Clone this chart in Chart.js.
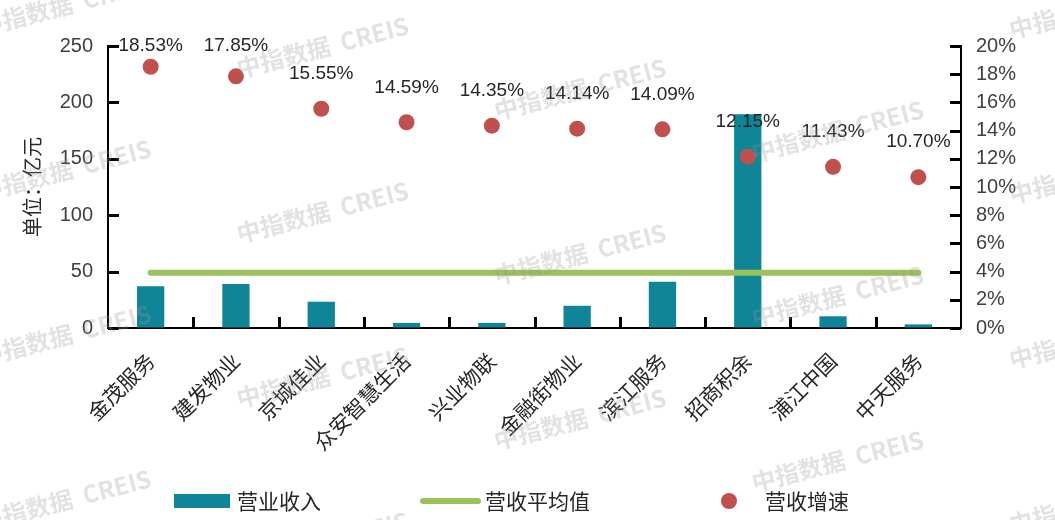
<!DOCTYPE html>
<html lang="zh-CN">
<head>
<meta charset="UTF-8">
<title>物业企业营业收入及增速</title>
<script src="https://cdn.jsdelivr.net/npm/chart.js"></script>
<style>
  html, body { margin: 0; padding: 0; background: #fff; }
  #wrap { width: 1055px; height: 520px; }
</style>
</head>
<body>
<div id="wrap"><canvas id="myChart" width="1055" height="520"></canvas></div>
<script>
    // 数据
    const companies = ['金茂服务', '建发物业', '京城佳业', '众安智慧生活', '兴业物联', '金融街物业', '滨江服务', '招商积余', '浦江中国', '中天服务'];
    const revenue = [37, 39, 23.3, 4.5, 4.5, 19.7, 41, 189.4, 10.4, 3.2];   // 营业收入 (亿元)
    const revenueAvg = [49, 49, 49, 49, 49, 49, 49, 49, 49, 49];              // 营收平均值
    const growthRate = [18.53, 17.85, 15.55, 14.59, 14.35, 14.14, 14.09, 12.15, 11.43, 10.70]; // 营收增速 (%)
    const leftTicks = [0, 50, 100, 150, 200, 250];
    const rightTicks = [0, 2, 4, 6, 8, 10, 12, 14, 16, 18, 20];

    const FONT = "'Liberation Sans', 'Noto Sans CJK SC', sans-serif";
    const CJK = "'Noto Sans CJK SC', sans-serif";
    const TEAL = '#108597';
    const GREEN = '#9bc15a';
    const RED = '#c0504d';

    // 坐标轴内侧刻度线
    const innerTicks = {
        id: 'innerTicks',
        afterDraw(chart) {
            const c = chart.ctx;
            const area = chart.chartArea;
            const sy = chart.scales.y;
            const sy1 = chart.scales.y1;
            const sx = chart.scales.x;
            c.save();
            c.fillStyle = '#000000';
            leftTicks.forEach(function (v) {
                const y = Math.round(sy.getPixelForValue(v));
                c.fillRect(area.left, y - 1, 11, 3);
            });
            rightTicks.forEach(function (v) {
                const y = Math.round(sy1.getPixelForValue(v));
                c.fillRect(area.right - 11, y - 1, 11, 3);
            });
            for (let i = 1; i < companies.length; i++) {
                const x = Math.round((sx.getPixelForValue(i - 1) + sx.getPixelForValue(i)) / 2);
                c.fillRect(x - 1, area.bottom - 11, 3, 11);
            }
            c.restore();
        }
    };

    // 增速数据标签
    const growthLabels = {
        id: 'growthLabels',
        afterDatasetsDraw(chart) {
            const meta = chart.getDatasetMeta(2);
            const c = chart.ctx;
            c.save();
            c.font = '19px ' + FONT;
            c.fillStyle = '#262626';
            c.textAlign = 'center';
            c.textBaseline = 'middle';
            meta.data.forEach(function (pt, i) {
                const y = Math.max(pt.y - 35, chart.chartArea.top);
                c.fillText(growthRate[i].toFixed(2) + '%', pt.x, y);
            });
            c.restore();
        }
    };

    // 底部图例
    const bottomLegend = {
        id: 'bottomLegend',
        afterDraw(chart) {
            const c = chart.ctx;
            const ds = chart.data.datasets;
            const y = 501;
            c.save();
            c.font = '21px ' + CJK;
            c.textBaseline = 'middle';
            c.textAlign = 'left';
            // 营业收入
            c.fillStyle = ds[0].backgroundColor;
            c.fillRect(174, y - 7, 56, 14);
            c.fillStyle = '#262626';
            c.fillText(ds[0].label, 237, y);
            // 营收平均值
            c.strokeStyle = ds[1].borderColor;
            c.lineWidth = 6;
            c.lineCap = 'round';
            c.beginPath();
            c.moveTo(423, y);
            c.lineTo(478, y);
            c.stroke();
            c.fillText(ds[1].label, 485, y);
            // 营收增速
            c.fillStyle = ds[2].pointBackgroundColor;
            c.beginPath();
            c.arc(729, y, 8, 0, Math.PI * 2);
            c.fill();
            c.fillStyle = '#262626';
            c.fillText(ds[2].label, 765, y);
            c.restore();
        }
    };

    // 水印
    const watermark = {
        id: 'watermark',
        afterDraw(chart) {
            const c = chart.ctx;
            c.save();
            c.font = 'bold 24px ' + CJK;
            c.fillStyle = 'rgba(150, 150, 150, 0.28)';
            c.textAlign = 'center';
            c.textBaseline = 'middle';
            for (let i = 0; i < 5; i++) {
                for (let j = -1; j < 4; j++) {
                    const x = 65 + 257.5 * i;
                    const y = 5 + 42 * i + 165 * j;
                    c.save();
                    c.translate(x, y);
                    c.rotate(-14.5 * Math.PI / 180);
                    c.fillText('中指数据  CREIS', 0, 0);
                    c.restore();
                }
            }
            c.restore();
        }
    };

    const ctx = document.getElementById('myChart');
    const mychart = new Chart(ctx, {
        data: {
            labels: companies,
            datasets: [{
                type: 'bar',
                label: '营业收入',
                data: revenue,
                backgroundColor: TEAL,
                barPercentage: 0.32,
                categoryPercentage: 1,
                yAxisID: 'y',
                order: 2
            }, {
                type: 'line',
                label: '营收平均值',
                data: revenueAvg,
                borderColor: GREEN,
                borderWidth: 6,
                borderCapStyle: 'round',
                pointRadius: 0,
                yAxisID: 'y',
                order: 1
            }, {
                type: 'line',
                label: '营收增速',
                data: growthRate,
                showLine: false,
                pointRadius: 8,
                pointBackgroundColor: RED,
                pointBorderWidth: 0,
                borderColor: RED,
                yAxisID: 'y1',
                order: 0
            }]
        },
        options: {
            responsive: false,
            animation: false,
            layout: { padding: { top: 46, bottom: 40, left: 0, right: 0 } },
            plugins: {
                legend: { display: false },
                tooltip: { enabled: false }
            },
            scales: {
                x: {
                    grid: { display: true, drawOnChartArea: false, drawTicks: false },
                    border: { color: '#000', width: 2 },
                    ticks: {
                        minRotation: 45, maxRotation: 45, padding: 20,
                        color: '#262626', font: { size: 21, family: CJK }
                    },
                    afterFit: function (s) { s.height = 152; }
                },
                y: {
                    position: 'left',
                    min: 0, max: 250,
                    afterBuildTicks: function (s) { s.ticks = leftTicks.map(function (v) { return { value: v }; }); },
                    grid: { drawOnChartArea: false, drawTicks: false },
                    border: { color: '#000', width: 2 },
                    ticks: { padding: 15, color: '#404040', font: { size: 20, family: FONT } },
                    title: {
                        display: true, text: '单位：亿元', color: '#262626',
                        font: { size: 20, family: CJK }, padding: { top: 20, bottom: 0 }
                    },
                    afterFit: function (s) { s.width = 108; }
                },
                y1: {
                    position: 'right',
                    min: 0, max: 20,
                    afterBuildTicks: function (s) { s.ticks = rightTicks.map(function (v) { return { value: v }; }); },
                    grid: { drawOnChartArea: false, drawTicks: false },
                    border: { color: '#000', width: 2 },
                    ticks: {
                        padding: 15, color: '#404040', font: { size: 20, family: FONT },
                        callback: function (v) { return v + '%'; }
                    },
                    afterFit: function (s) { s.width = 94; }
                }
            }
        },
        plugins: [innerTicks, growthLabels, bottomLegend, watermark]
    });
</script>
</body>
</html>
